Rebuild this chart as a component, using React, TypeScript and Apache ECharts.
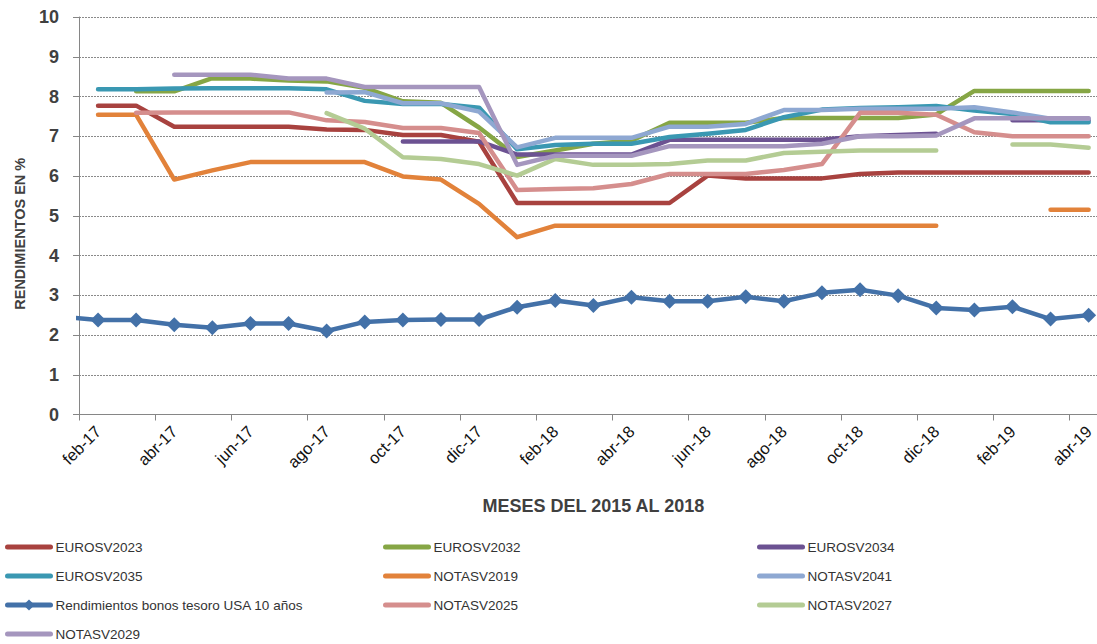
import React, { useEffect, useRef } from 'react';
import * as echarts from 'echarts';

const months = ['feb-17','mar-17','abr-17','may-17','jun-17','jul-17','ago-17','sep-17','oct-17','nov-17','dic-17','ene-18','feb-18','mar-18','abr-18','may-18','jun-18','jul-18','ago-18','sep-18','oct-18','nov-18','dic-18','ene-19','feb-19','mar-19','abr-19'];

const yTicks = [0, 10, 1]; // min, max, interval

const eurosv2023 = [7.77, 7.77, 7.24, 7.24, 7.24, 7.24, 7.17, 7.16, 7.03, 7.03, 6.86, 5.32, 5.32, 5.32, 5.32, 5.32, 6.01, 5.94, 5.94, 5.94, 6.05, 6.09, 6.09, 6.09, 6.09, 6.09, 6.09];
const eurosv2032 = [null, 8.13, 8.13, 8.46, 8.45, 8.40, 8.38, 8.22, 7.88, 7.84, 7.22, 6.48, 6.64, 6.81, 6.89, 7.34, 7.34, 7.34, 7.46, 7.46, 7.46, 7.46, 7.55, 8.14, 8.14, 8.14, 8.14];
const eurosv2034 = [null, null, null, null, null, null, null, null, 6.87, 6.87, 6.87, 6.54, 6.54, 6.54, 6.54, 6.91, 6.91, 6.91, 6.91, 6.91, 7.00, 7.03, 7.06, null, 7.40, 7.40, 7.40];
const eurosv2035 = [8.18, 8.18, 8.20, 8.21, 8.21, 8.21, 8.18, 7.89, 7.81, 7.81, 7.72, 6.67, 6.78, 6.81, 6.81, 6.98, 7.06, 7.16, 7.48, 7.67, 7.71, 7.73, 7.76, 7.65, 7.56, 7.35, 7.35];
const notasv2019 = [7.54, 7.54, 5.91, 6.14, 6.35, 6.35, 6.35, 6.35, 5.99, 5.91, 5.30, 4.46, 4.75, 4.75, 4.75, 4.75, 4.75, 4.75, 4.75, 4.75, 4.75, 4.75, 4.75, null, null, 5.15, 5.15];
const notasv2041 = [null, null, null, null, null, null, 8.10, 8.11, 7.83, 7.83, 7.62, 6.72, 6.96, 6.96, 6.96, 7.24, 7.24, 7.31, 7.66, 7.66, 7.69, 7.69, 7.69, 7.73, 7.60, 7.44, 7.44];
const usa10y = [2.38, 2.38, 2.26, 2.18, 2.29, 2.29, 2.10, 2.33, 2.38, 2.39, 2.39, 2.70, 2.87, 2.74, 2.95, 2.85, 2.85, 2.96, 2.85, 3.06, 3.14, 2.99, 2.68, 2.63, 2.71, 2.40, 2.50];
const usa10yPrevMonth = 2.46; // ene-17, lies left of the plotted range
const notasv2025 = [null, 7.59, 7.60, 7.60, 7.60, 7.60, 7.40, 7.36, 7.21, 7.21, 7.08, 5.65, 5.67, 5.69, 5.80, 6.05, 6.05, 6.05, 6.15, 6.30, 7.59, 7.59, 7.54, 7.10, 7.00, 7.00, 7.00];
const notasv2027 = [null, null, null, null, null, null, 7.58, 7.19, 6.47, 6.43, 6.30, 6.01, 6.43, 6.28, 6.28, 6.30, 6.39, 6.39, 6.58, 6.61, 6.64, 6.64, 6.64, null, 6.79, 6.79, 6.71];
const notasv2029 = [null, null, 8.55, 8.55, 8.55, 8.45, 8.45, 8.24, 8.24, 8.24, 8.24, 6.28, 6.51, 6.51, 6.51, 6.75, 6.75, 6.75, 6.75, 6.81, 7.00, 7.00, 7.02, 7.45, 7.45, 7.45, 7.45];

const usaName = 'Rendimientos bonos tesoro USA 10 años';

const seriesDefs = [
  { name: 'EUROSV2023', data: eurosv2023, color: '#A8423F' },
  { name: 'EUROSV2032', data: eurosv2032, color: '#86A645' },
  { name: 'EUROSV2034', data: eurosv2034, color: '#6C5292' },
  { name: 'EUROSV2035', data: eurosv2035, color: '#3A98B2' },
  { name: 'NOTASV2019', data: notasv2019, color: '#E2823A' },
  { name: 'NOTASV2041', data: notasv2041, color: '#8EA8D2' },
  { name: usaName, data: usa10y, color: '#4371A8' },
  { name: 'NOTASV2025', data: notasv2025, color: '#D58E8D' },
  { name: 'NOTASV2027', data: notasv2027, color: '#B4CC94' },
  { name: 'NOTASV2029', data: notasv2029, color: '#A596BE' },
];

const legendColumns = [
  ['EUROSV2023', 'EUROSV2035', usaName, 'NOTASV2029'],
  ['EUROSV2032', 'NOTASV2019', 'NOTASV2025'],
  ['EUROSV2034', 'NOTASV2041', 'NOTASV2027'],
];

const FONT = '"Liberation Sans", Arial, sans-serif';

export default function App() {
  const ref = useRef<HTMLDivElement>(null);
  useEffect(() => {
    if (!ref.current) return;
    const chart = echarts.init(ref.current, null, { renderer: 'svg' });
    const toPairs = (arr: (number | null)[]) => arr.map((v, i) => [i, v == null ? '-' : v]);
    const series = seriesDefs.map((s) => {
      const isUsa = s.name === usaName;
      return {
        name: s.name,
        type: 'line',
        xAxisIndex: 1,
        yAxisIndex: 0,
        data: isUsa ? [[-1, usa10yPrevMonth], ...toPairs(s.data)] : toPairs(s.data),
        symbol: isUsa ? 'diamond' : 'none',
        symbolSize: 15,
        showSymbol: isUsa,
        clip: true,
        connectNulls: false,
        silent: true,
        lineStyle: { width: 4.5, color: s.color, cap: 'round', join: 'round' },
        itemStyle: { color: s.color },
        emphasis: { disabled: true },
      };
    });
    const legendLefts = [5, 383, 757];
    const legends = legendColumns.map((col, k) => ({
      orient: 'vertical',
      left: legendLefts[k],
      top: 540,
      padding: 0,
      itemWidth: 43,
      itemHeight: 14,
      itemGap: 15,
      selectedMode: false,
      data: col.map((name) =>
        name === usaName
          ? { name, itemStyle: { opacity: 1 } }
          : { name, itemStyle: { opacity: 0 } }
      ),
      lineStyle: { width: 5, cap: 'round' },
      textStyle: { fontFamily: FONT, fontSize: 13.5, color: '#333', lineHeight: 14 },
    }));
    chart.setOption({
      animation: false,
      backgroundColor: '#ffffff',
      textStyle: { fontFamily: FONT },
      legend: legends,
      grid: { left: 79, right: -10.7, top: 17, bottom: 229.5, outerBoundsMode: 'none' },
      xAxis: [
        {
          type: 'category',
          data: months,
          boundaryGap: true,
          name: 'MESES DEL 2015 AL 2018',
          nameLocation: 'middle',
          nameGap: 82,
          nameTextStyle: { fontFamily: FONT, fontWeight: 'bold', fontSize: 18, color: '#404040' },
          axisLine: { show: true, onZero: false, lineStyle: { color: '#868686', width: 1 } },
          axisTick: { show: true, interval: 1, length: 6, alignWithLabel: false, lineStyle: { color: '#868686' } },
          axisLabel: { interval: 1, rotate: 45, margin: 14, fontFamily: FONT, fontSize: 16.5, color: '#111' },
          splitLine: { show: false },
        },
        {
          type: 'value',
          min: -0.5,
          max: months.length - 0.5,
          show: false,
          splitLine: { show: false },
        },
      ],
      yAxis: {
        type: 'value',
        min: yTicks[0],
        max: yTicks[1],
        interval: yTicks[2],
        name: 'RENDIMIENTOS EN %',
        nameLocation: 'middle',
        nameRotate: 90,
        nameGap: 52,
        nameTextStyle: {
          fontFamily: FONT,
          fontWeight: 'bold',
          fontSize: 14.5,
          color: '#404040',
          padding: [0, 36, 0, 0],
        },
        axisLine: { show: true, onZero: false, lineStyle: { color: '#868686', width: 1 } },
        axisTick: { show: true, length: 6, lineStyle: { color: '#868686' } },
        axisLabel: { margin: 20, fontFamily: FONT, fontWeight: 'bold', fontSize: 18, color: '#404040' },
        splitLine: { show: true, lineStyle: { color: '#8a8a8a', type: [2, 1], width: 1 } },
      },
      series,
    });
    return () => chart.dispose();
  }, []);
  return (
    <div
      ref={ref}
      style={{ position: 'fixed', left: 0, top: 0, width: 1097, height: 644, background: '#fff' }}
    />
  );
}
